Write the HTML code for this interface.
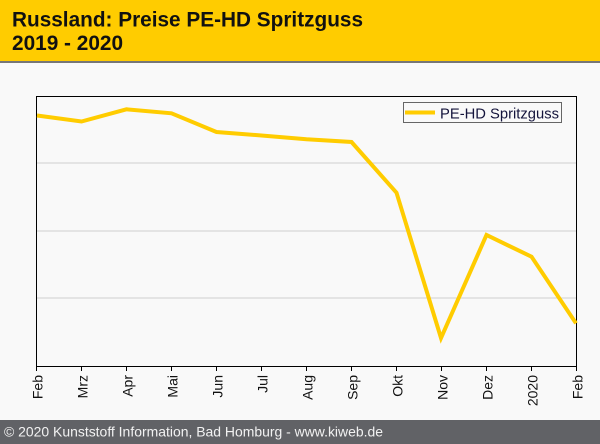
<!DOCTYPE html>
<html><head><meta charset="utf-8"><style>
html,body{margin:0;padding:0;background:#f9f9f9;}
svg{display:block;}
</style></head><body>
<svg width="600" height="444" viewBox="0 0 600 444" xmlns="http://www.w3.org/2000/svg" font-family="'Liberation Sans', Arial, sans-serif">
<rect x="0" y="0" width="600" height="444" fill="#f9f9f9"/>
<rect x="0" y="0" width="600" height="61" fill="#ffcc00"/>
<rect x="0" y="61" width="600" height="2" fill="#777777"/>
<text x="12" y="26.5" font-size="20.8" font-weight="bold" fill="#111" textLength="351" lengthAdjust="spacingAndGlyphs">Russland: Preise PE-HD Spritzguss</text>
<text x="12" y="50" font-size="20.8" font-weight="bold" fill="#111">2019 - 2020</text>

<g shape-rendering="crispEdges">
<line x1="37" y1="163" x2="576" y2="163" stroke="#d0d0d0" stroke-width="1"/>
<line x1="37" y1="231" x2="576" y2="231" stroke="#d0d0d0" stroke-width="1"/>
<line x1="37" y1="298" x2="576" y2="298" stroke="#d0d0d0" stroke-width="1"/>
<rect x="36.5" y="96.5" width="540" height="270" fill="none" stroke="#000" stroke-width="1"/>
<g stroke="#000" stroke-width="1">
<line x1="36.5" y1="366" x2="36.5" y2="371"/>
<line x1="81.5" y1="366" x2="81.5" y2="371"/>
<line x1="126.5" y1="366" x2="126.5" y2="371"/>
<line x1="171.5" y1="366" x2="171.5" y2="371"/>
<line x1="216.5" y1="366" x2="216.5" y2="371"/>
<line x1="261.5" y1="366" x2="261.5" y2="371"/>
<line x1="306.5" y1="366" x2="306.5" y2="371"/>
<line x1="351.5" y1="366" x2="351.5" y2="371"/>
<line x1="396.5" y1="366" x2="396.5" y2="371"/>
<line x1="441.5" y1="366" x2="441.5" y2="371"/>
<line x1="486.5" y1="366" x2="486.5" y2="371"/>
<line x1="531.5" y1="366" x2="531.5" y2="371"/>
<line x1="576.5" y1="366" x2="576.5" y2="371"/>
</g>
</g>

<polyline fill="none" stroke="#ffcc00" stroke-width="4" stroke-linejoin="miter" points="37,115.5 81.5,121.5 126.5,109.3 171.5,113.3 216.5,132 261.5,135.5 306.5,139.3 351.5,142 396.5,192.7 441,338 486.5,235 531.5,256.7 576,323.3"/>

<g font-size="14" fill="#111" text-anchor="end">
<text transform="translate(42.5,375) rotate(-90)">Feb</text>
<text transform="translate(87.5,375) rotate(-90)">Mrz</text>
<text transform="translate(132.5,375) rotate(-90)">Apr</text>
<text transform="translate(177.5,375) rotate(-90)">Mai</text>
<text transform="translate(222.5,375) rotate(-90)">Jun</text>
<text transform="translate(267.5,375) rotate(-90)">Jul</text>
<text transform="translate(312.5,375) rotate(-90)">Aug</text>
<text transform="translate(357.5,375) rotate(-90)">Sep</text>
<text transform="translate(402.5,375) rotate(-90)">Okt</text>
<text transform="translate(447.5,375) rotate(-90)">Nov</text>
<text transform="translate(492.5,375) rotate(-90)">Dez</text>
<text transform="translate(537.5,375) rotate(-90)">2020</text>
<text transform="translate(582.5,375) rotate(-90)">Feb</text>
</g>

<rect x="403.5" y="102.5" width="158" height="20" fill="#f9f9f9" stroke="#666" stroke-width="1" shape-rendering="crispEdges"/>
<line x1="405" y1="112.5" x2="435" y2="112.5" stroke="#ffcc00" stroke-width="4"/>
<text x="440" y="118.3" font-size="15" fill="#14143c" textLength="119" lengthAdjust="spacingAndGlyphs">PE-HD Spritzguss</text>

<rect x="0" y="420" width="600" height="24" fill="#616266"/>
<text x="4" y="436.7" font-size="14" fill="#f2f2f2" textLength="379" lengthAdjust="spacingAndGlyphs">© 2020 Kunststoff Information, Bad Homburg - www.kiweb.de</text>
</svg>
</body></html>
